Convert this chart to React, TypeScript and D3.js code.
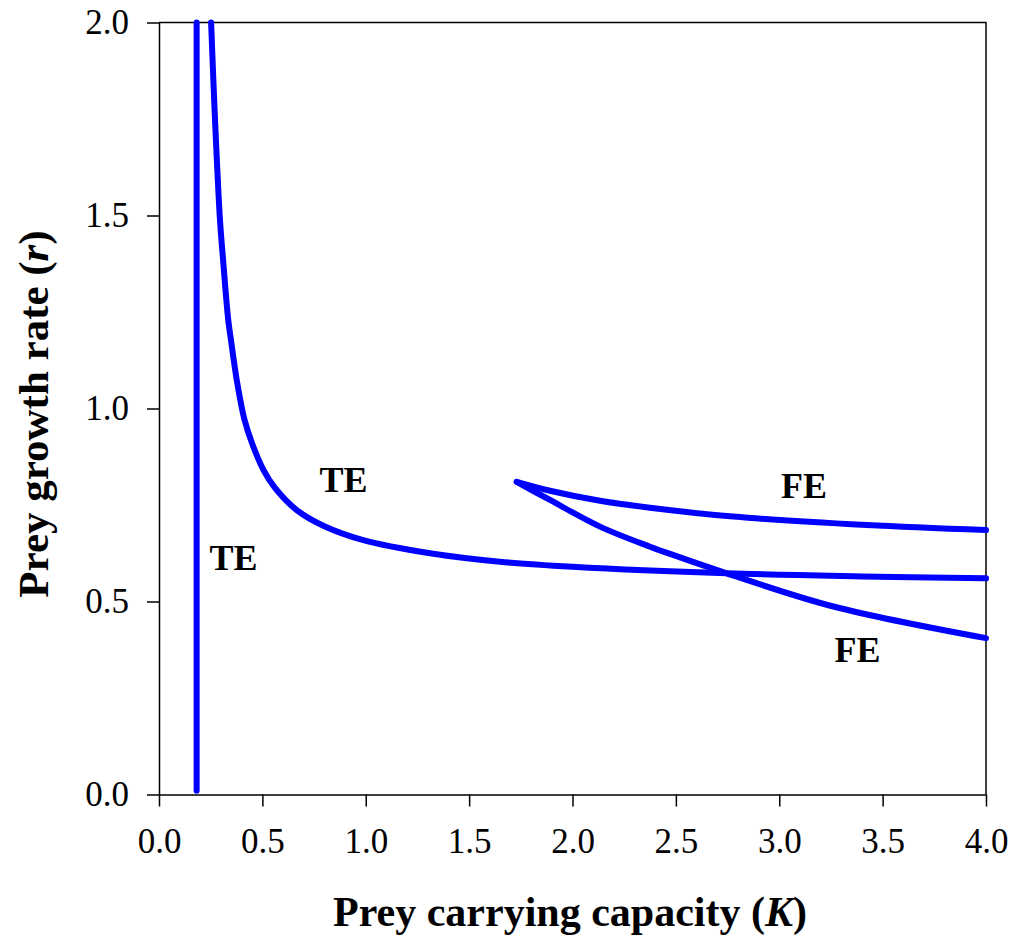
import React, { useEffect, useRef } from 'react';
import * as d3 from 'd3';

// TE boundary (vertical line near K = 0.18)
const teVerticalK = [0.182, 0.182];
const teVerticalR = [0.01, 2.0];

// TE boundary (hyperbola-like curve)
const teCurveK = [0.252, 0.271, 0.295, 0.31, 0.335, 0.35, 0.376, 0.413, 0.45, 0.505, 0.56, 0.666, 0.8, 0.988, 1.311, 1.649, 2.0, 2.746, 3.4, 4.0];
const teCurveR = [2.0, 1.747, 1.488, 1.385, 1.229, 1.17, 1.074, 0.972, 0.91, 0.841, 0.795, 0.737, 0.695, 0.659, 0.625, 0.603, 0.59, 0.573, 0.565, 0.56];

// FE boundaries, both starting from the cusp
const feUpperK = [1.73, 1.891, 2.133, 2.375, 2.778, 3.423, 4.0];
const feUpperR = [0.81, 0.787, 0.761, 0.743, 0.72, 0.698, 0.685];
const feLowerK = [1.73, 1.891, 2.133, 2.375, 2.5, 2.746, 3.262, 4.0];
const feLowerR = [0.81, 0.763, 0.694, 0.642, 0.618, 0.573, 0.487, 0.405];

const xTicks = [0, 0.5, 1, 1.5, 2, 2.5, 3, 3.5, 4];
const yTicks = [0, 0.5, 1, 1.5, 2];

const regionLabels = ['TE', 'TE', 'FE', 'FE'];
const regionK = [0.36, 0.892, 3.12, 3.378];
const regionR = [0.582, 0.784, 0.768, 0.343];

const FONT = "'Liberation Serif', 'Times New Roman', serif";

const App = () => {
  const svgRef = useRef(null);

  useEffect(() => {
    const svg = d3.select(svgRef.current);
    svg.selectAll('*').remove();

    const x = d3.scaleLinear().domain([0, 4]).range([159, 986]);
    const y = d3.scaleLinear().domain([0, 2]).range([794.5, 22.5]);

    // frame top and right
    svg.append('line')
      .attr('x1', 159).attr('x2', 986.5).attr('y1', 22.5).attr('y2', 22.5)
      .attr('stroke', '#000').attr('stroke-width', 1.5);
    svg.append('line')
      .attr('x1', 986).attr('x2', 986).attr('y1', 22.5).attr('y2', 794.5)
      .attr('stroke', '#000').attr('stroke-width', 1.5);

    const xAxis = d3.axisBottom(x)
      .tickValues(xTicks)
      .tickFormat(d3.format('.1f'))
      .tickSize(12)
      .tickSizeOuter(0)
      .tickPadding(22);

    const gx = svg.append('g')
      .attr('transform', `translate(0,${y(0)})`)
      .call(xAxis);

    const yAxis = d3.axisLeft(y)
      .tickValues(yTicks)
      .tickFormat(d3.format('.1f'))
      .tickSize(12)
      .tickSizeOuter(0)
      .tickPadding(18);

    const gy = svg.append('g')
      .attr('transform', `translate(${x(0)},0)`)
      .call(yAxis);

    [gx, gy].forEach(g => {
      g.selectAll('path, line').attr('stroke', '#000').attr('stroke-width', 1.5);
      g.selectAll('text')
        .attr('fill', '#000')
        .style('font-family', FONT)
        .style('font-size', '35px');
    });

    const smooth = d3.line()
      .x(d => x(d[0]))
      .y(d => y(d[1]))
      .curve(d3.curveCatmullRom.alpha(0.5));

    const straight = d3.line()
      .x(d => x(d[0]))
      .y(d => y(d[1]));

    const series = [
      [teVerticalK, teVerticalR],
      [teCurveK, teCurveR],
      [feUpperK, feUpperR],
      [feLowerK, feLowerR],
    ];

    series.forEach(([ks, rs], i) => {
      const pts = ks.map((k, j) => [k, rs[j]]);
      svg.append('path')
        .attr('d', i === 0 ? straight(pts) : smooth(pts))
        .attr('fill', 'none')
        .attr('stroke', '#0000ff')
        .attr('stroke-width', 6)
        .attr('stroke-linecap', 'round')
        .attr('stroke-linejoin', 'round');
    });

    svg.selectAll('.region')
      .data(regionLabels)
      .join('text')
      .attr('class', 'region')
      .attr('x', (d, i) => x(regionK[i]))
      .attr('y', (d, i) => y(regionR[i]))
      .attr('text-anchor', 'middle')
      .style('font-family', FONT)
      .style('font-weight', 'bold')
      .style('font-size', '36px')
      .text(d => d);

    const xTitle = svg.append('text')
      .attr('x', 570)
      .attr('y', 926)
      .attr('text-anchor', 'middle')
      .style('font-family', FONT)
      .style('font-weight', 'bold')
      .style('font-size', '42px');
    xTitle.append('tspan').text('Prey carrying capacity (');
    xTitle.append('tspan').style('font-style', 'italic').text('K');
    xTitle.append('tspan').text(')');

    const yTitle = svg.append('text')
      .attr('transform', 'translate(48,414) rotate(-90)')
      .attr('text-anchor', 'middle')
      .style('font-family', FONT)
      .style('font-weight', 'bold')
      .style('font-size', '43px');
    yTitle.append('tspan').text('Prey growth rate (');
    yTitle.append('tspan').style('font-style', 'italic').text('r');
    yTitle.append('tspan').text(')');
  }, []);

  return (
    <svg
      ref={svgRef}
      width={1015}
      height={944}
      style={{ position: 'absolute', left: 0, top: 0, background: '#fff' }}
    />
  );
};

export default App;
